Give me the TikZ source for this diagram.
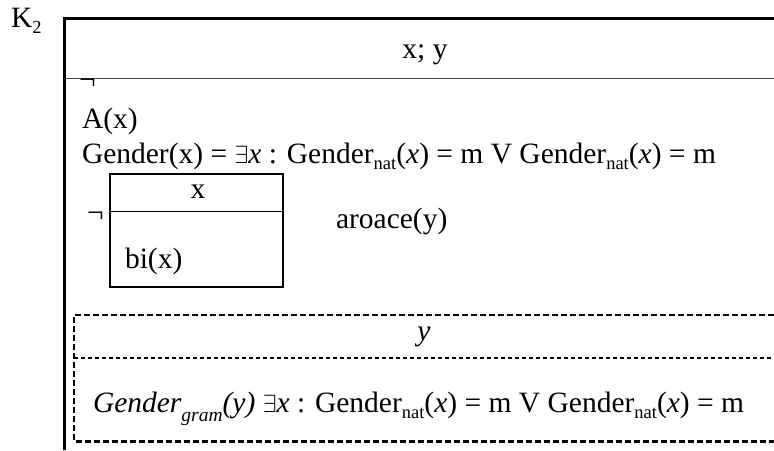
\documentclass[tikz,border=0pt]{standalone}
\usepackage{fontspec}
\setmainfont{Liberation Serif}
\newcommand{\nsub}[1]{\raisebox{-0.22em}{\fontsize{18.5}{18.5}\selectfont #1}}
\newcommand{\gsub}[1]{\raisebox{-0.32em}{\fontsize{19.5}{19.5}\selectfont #1}}
\begin{document}
\begin{tikzpicture}[x=1pt,y=-1pt,
  every node/.style={inner sep=0pt, outer sep=0pt, font=\fontsize{29.5}{34}\selectfont},
  txt/.style={anchor=base west},
  ctxt/.style={anchor=base},
  frame/.style={line width=3pt},
  rule/.style={line width=1.6pt, black!75},
  ibox/.style={line width=2.2pt},
  irule/.style={line width=1.1pt},
  dbox/.style={line width=2.4pt, dash pattern=on 6pt off 3pt},
  drule/.style={line width=1.1pt, dash pattern=on 4pt off 3pt}]
\useasboundingbox (0,0) rectangle (774,450);
% outer frame
\coordinate (fb) at (64,450);
\coordinate (ftl) at (64,18);
\coordinate (ftr) at (774,18);
\draw[frame] (fb) -- (ftl) -- (ftr);
\coordinate (rl) at (64,78.3);
\coordinate (rr) at (774,78.3);
\draw[rule] (rl) -- (rr);
\node[txt] (k2) at (11,27) {K\nsub{2}};
\node[ctxt] (hdr) at (425,58) {x; y};
\node[txt] (neg1) at (79,89) {¬};
\node[txt] (ax) at (82,128) {A(x)};
\node[txt] (gen) at (82,163) {Gender(x) = $\exists$\textit{x} : Gender\nsub{nat}(\textit{x}) = m V Gender\nsub{nat}(\textit{x}) = m};
% inner box
\coordinate (ib1) at (110,174);
\coordinate (ib2) at (283,287);
\draw[ibox] (ib1) rectangle (ib2);
\coordinate (ir1) at (110,211.7);
\coordinate (ir2) at (283,211.7);
\draw[irule] (ir1) -- (ir2);
\node[ctxt] (ix) at (198,198) {x};
\node[txt] (bi) at (125,268) {bi(x)};
\node[txt] (neg2) at (87,222.5) {¬};
\node[txt] (aro) at (336,228) {aroace(y)};
% dashed box
\coordinate (d1) at (774,315);
\coordinate (d2) at (74,315);
\coordinate (d3) at (74,441.5);
\coordinate (d4) at (774,441.5);
\draw[dbox] (d1) -- (d2) -- (d3) -- (d4);
\coordinate (dr1) at (74,358);
\coordinate (dr2) at (774,358);
\draw[drule] (dr1) -- (dr2);
\node[ctxt] (dy) at (424,340) {\textit{y}};
\node[txt] (gg) at (93,412) {\textit{Gender\gsub{gram}(y)} $\exists$\textit{x} : Gender\nsub{nat}(\textit{x}) = m V Gender\nsub{nat}(\textit{x}) = m};
\end{tikzpicture}
\end{document}
